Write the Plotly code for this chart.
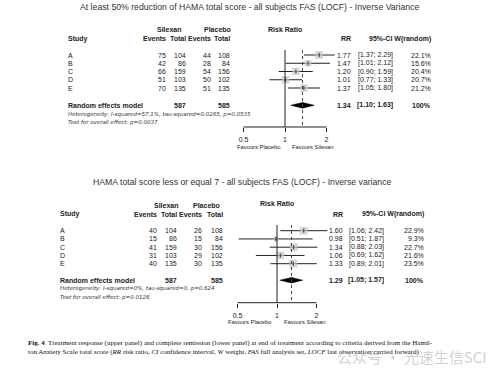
import math
import plotly.graph_objects as go

W, H = 498, 376

# ---------------- data ----------------
studies = ["A", "B", "C", "D", "E"]

# upper panel: at least 50% reduction of HAMA total score
top_title = "At least 50% reduction of HAMA total score - all subjects FAS (LOCF) - Inverse Variance"
top_sil_events = [75, 42, 66, 51, 70]
top_sil_total = [104, 86, 159, 103, 135]
top_pla_events = [44, 28, 54, 50, 51]
top_pla_total = [108, 84, 156, 102, 135]
top_rr = [1.77, 1.47, 1.20, 1.01, 1.37]
top_lo = [1.37, 1.01, 0.90, 0.77, 1.05]
top_hi = [2.29, 2.12, 1.59, 1.33, 1.80]
top_w = [22.1, 15.6, 20.4, 20.7, 21.2]
top_sum = [1.34, 1.10, 1.63]
top_tot = [587, 585]
top_het = "Heterogeneity: I-squared=57.1%, tau-squared=0.0285, p=0.0535"
top_test = "Test for overall effect: p=0.0037"

# lower panel: HAMA total score <= 7
bot_title = "HAMA total score less or equal 7 - all subjects FAS (LOCF) - Inverse variance"
bot_sil_events = [40, 15, 41, 31, 40]
bot_sil_total = [104, 86, 159, 103, 135]
bot_pla_events = [26, 15, 30, 29, 30]
bot_pla_total = [108, 84, 156, 102, 135]
bot_rr = [1.60, 0.98, 1.34, 1.06, 1.33]
bot_lo = [1.06, 0.51, 0.88, 0.69, 0.89]
bot_hi = [2.42, 1.87, 2.03, 1.62, 2.01]
bot_w = [22.9, 9.3, 22.7, 21.6, 23.5]
bot_sum = [1.29, 1.05, 1.57]
bot_tot = [587, 585]
bot_het = "Heterogeneity: I-squared=0%, tau-squared=0, p=0.624"
bot_test = "Test for overall effect: p=0.0126"

tick_vals = [0.5, 1, 2]
tick_text = ["0.5", "1", "2"]

caption1 = ("<b>Fig. 4</b>  Treatment response (upper panel) and complete remission (lower panel) "
            "at end of treatment according to criteria derived from the Hamil-")
caption2 = ("ton Anxiety Scale total score (<i>RR</i> risk ratio, <i>CI</i> confidence interval, "
            "<i>W</i> weight, <i>FAS</i> full analysis set, <i>LOCF</i> last observation carried forward)")
watermark = "公众号 · 光速生信SCI"

# ---------------- layout geometry (pixels) ----------------
SANS = "Liberation Sans, Arial, sans-serif"
WIDE = "DejaVu Sans, Verdana, sans-serif"
SERIF = "Liberation Serif, Times New Roman, serif"
TXT = "#222222"

geo_top = dict(p0=55, s=8.25, x1=285, u=41.5, title_x=249.5, title_y=7,
               grp_y=30, hdr_y=39, rrh_y=29, study_x=67,
               cols=[166.7, 186.7, 212, 231.3], sil_c=169.5, pla_c=217.7,
               rr_r=351.5, ci_r=394, w_r=431.7,
               het_y=114, test_y=122.7, axis_y=127, vtop=50,
               fav_pl=259, fav_si=312.5, fav_y=147, sum_row=6.1)
geo_bot = dict(p0=230.7, s=8.25, x1=277, u=39.5, title_x=242, title_y=181.7,
               grp_y=205, hdr_y=214, rrh_y=204, study_x=59.3,
               cols=[157.5, 178.3, 202.5, 224], sil_c=166, pla_c=206.3,
               rr_r=343.5, ci_r=384.5, w_r=424.5,
               het_y=288.5, test_y=297, axis_y=302.7, vtop=225,
               fav_pl=250, fav_si=305, fav_y=321.7, sum_row=6.0)

XA, XB = 225, 345  # data x-axis domain in pixels

fig = go.Figure()
annotations = []
shapes = []


def px(x):
    return x / W


def py(y):
    return 1 - y / H


def ann(text, x, y, size=7, xanchor="left", yref="paper", color=TXT, family=SANS):
    annotations.append(dict(text=text, x=px(x), y=(py(y) if yref == "paper" else y),
                            xref="paper", yref=yref, xanchor=xanchor, yanchor="middle",
                            showarrow=False, font=dict(size=size, family=family, color=color),
                            borderpad=0))


def panel(k, g, title, se, st, pe, pt, rr, lo, hi, w, summ, tot, het, test):
    xname = "x" if k == 1 else "x%d" % k
    yname = "y" if k == 1 else "y%d" % k
    rows = list(range(len(studies)))
    sr = g["sum_row"]

    # axes
    l2 = math.log10(2)
    rlo = (XA - g["x1"]) / g["u"] * l2
    rhi = (XB - g["x1"]) / g["u"] * l2
    xkey = "xaxis" if k == 1 else "xaxis%d" % k
    ykey = "yaxis" if k == 1 else "yaxis%d" % k
    fig.layout[xkey] = dict(domain=[px(XA), px(XB)], type="log", range=[rlo, rhi],
                            anchor="free", position=py(g["axis_y"]),
                            tickvals=tick_vals, ticktext=tick_text, ticks="outside",
                            ticklen=4, tickwidth=1, tickcolor=TXT, showline=False,
                            showgrid=False, zeroline=False, ticklabelstandoff=2,
                            tickfont=dict(size=7, family=SANS, color=TXT))
    ybot = (H - g["p0"]) / g["s"]
    ytop = -g["p0"] / g["s"]
    fig.layout[ykey] = dict(domain=[0, 1], range=[ybot, ytop], visible=False,
                            anchor=xname)

    # reference lines
    shapes.append(dict(type="line", xref=xname, yref="paper", x0=tick_vals[0], x1=tick_vals[-1],
                       y0=py(g["axis_y"]), y1=py(g["axis_y"]), line=dict(color=TXT, width=1)))
    shapes.append(dict(type="line", xref=xname, yref="paper", x0=1, x1=1,
                       y0=py(g["vtop"]), y1=py(g["axis_y"]), line=dict(color=TXT, width=1)))
    shapes.append(dict(type="line", xref=xname, yref="paper", x0=summ[0], x1=summ[0],
                       y0=py(g["vtop"]), y1=py(g["axis_y"]),
                       line=dict(color="#444444", width=1, dash="dot")))

    # CI lines
    cx, cy = [], []
    for r, a, b in zip(rows, lo, hi):
        cx += [a, b, None]
        cy += [r, r, None]
    fig.add_trace(go.Scatter(x=cx, y=cy, mode="lines", line=dict(color=TXT, width=1),
                             xaxis=xname, yaxis=yname, hoverinfo="skip", showlegend=False))
    # weight squares
    fig.add_trace(go.Scatter(x=rr, y=rows, mode="markers",
                             marker=dict(symbol="square", size=[1.65 * math.sqrt(v) for v in w],
                                         color="#c6c6c6", line=dict(width=0)),
                             xaxis=xname, yaxis=yname, showlegend=False))
    fig.add_trace(go.Scatter(x=rr, y=rows, mode="markers",
                             marker=dict(symbol="line-ns-open", size=3, color="#333333",
                                         line=dict(width=1, color="#333333")),
                             xaxis=xname, yaxis=yname, showlegend=False, hoverinfo="skip"))
    # summary diamond
    hh = 0.34
    fig.add_trace(go.Scatter(x=[summ[1], summ[0], summ[2], summ[0], summ[1]],
                             y=[sr, sr - hh, sr, sr + hh, sr], mode="lines", fill="toself",
                             fillcolor="#000000", line=dict(color="#000000", width=0.5),
                             xaxis=xname, yaxis=yname, showlegend=False))

    # texts
    ann(title, g["title_x"], g["title_y"], size=8.7, xanchor="center", color="#333333")
    ann("<b>Silexan</b>", g["sil_c"], g["grp_y"], xanchor="center")
    ann("<b>Placebo</b>", g["pla_c"], g["grp_y"], xanchor="center")
    ann("<b>Risk Ratio</b>", g["x1"], g["rrh_y"], xanchor="center")
    ann("<b>Study</b>", g["study_x"], g["hdr_y"])
    for xc, t in zip(g["cols"], ["Events", "Total", "Events", "Total"]):
        ann("<b>%s</b>" % t, xc, g["hdr_y"], xanchor="right")
    ann("<b>RR</b>", g["rr_r"], g["hdr_y"], xanchor="right")
    ann("<b>95%-CI W(random)</b>", g["w_r"], g["hdr_y"], xanchor="right")

    yref = yname
    for i, s in enumerate(studies):
        ann(s, g["study_x"], i, yref=yref)
        for xc, v in zip(g["cols"], [se[i], st[i], pe[i], pt[i]]):
            ann(str(v), xc, i, xanchor="right", yref=yref)
        ann("%.2f" % rr[i], g["rr_r"], i, xanchor="right", yref=yref)
        ann("[%.2f; %.2f]" % (lo[i], hi[i]), g["ci_r"], i, xanchor="right", yref=yref)
        ann("%.1f%%" % w[i], g["w_r"], i, xanchor="right", yref=yref)

    ann("<b>Random effects model</b>", g["study_x"], sr, yref=yref)
    ann("<b>%d</b>" % tot[0], g["cols"][1], sr, xanchor="right", yref=yref)
    ann("<b>%d</b>" % tot[1], g["cols"][3], sr, xanchor="right", yref=yref)
    ann("<b>%.2f</b>" % summ[0], g["rr_r"], sr, xanchor="right", yref=yref)
    ann("<b>[%.2f; %.2f]</b>" % (summ[1], summ[2]), g["ci_r"], sr, xanchor="right", yref=yref)
    ann("<b>100%</b>", g["w_r"], sr, xanchor="right", yref=yref)

    ann("<i>%s</i>" % het, g["study_x"], g["het_y"], size=5.5, family=WIDE, color="#333333")
    ann("<i>%s</i>" % test, g["study_x"], g["test_y"], size=5.5, family=WIDE, color="#333333")
    ann("Favours Placebo", g["fav_pl"], g["fav_y"], size=5.8, xanchor="center")
    ann("Favours Silexan", g["fav_si"], g["fav_y"], size=5.8, xanchor="center")


panel(1, geo_top, top_title, top_sil_events, top_sil_total, top_pla_events, top_pla_total,
      top_rr, top_lo, top_hi, top_w, top_sum, top_tot, top_het, top_test)
panel(2, geo_bot, bot_title, bot_sil_events, bot_sil_total, bot_pla_events, bot_pla_total,
      bot_rr, bot_lo, bot_hi, bot_w, bot_sum, bot_tot, bot_het, bot_test)

ann(caption1, 27, 343, size=7, family=SERIF, color="#111111")
ann(caption2, 27, 352, size=7, family=SERIF, color="#111111")
ann(watermark, 336, 356, size=15, color="rgba(150,150,150,0.45)",
    family="Noto Sans CJK SC, sans-serif")

fig.update_layout(width=W, height=H, margin=dict(l=0, r=0, t=0, b=0),
                  paper_bgcolor="white", plot_bgcolor="rgba(0,0,0,0)",
                  annotations=annotations, shapes=shapes, showlegend=False)

fig.write_html("out.html", config={"displayModeBar": False},
               post_script="document.body.style.margin='0px';")
